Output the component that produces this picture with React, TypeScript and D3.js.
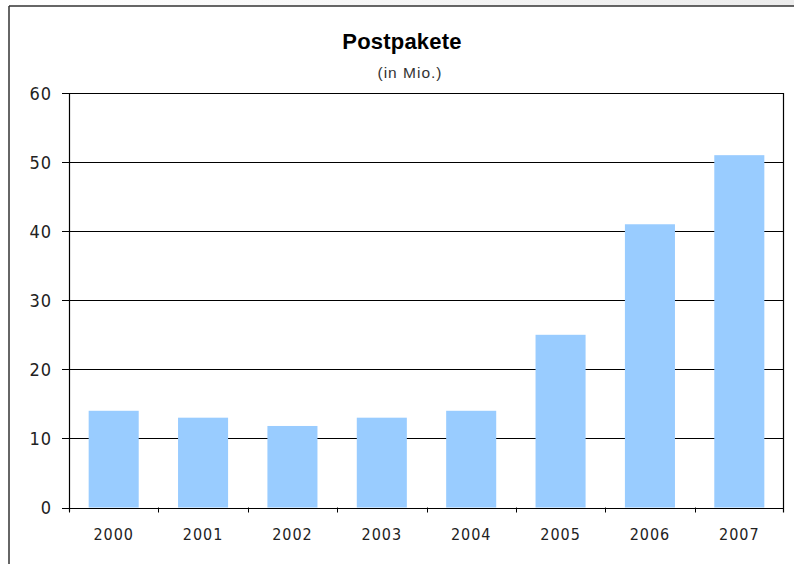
import React from "react";
import * as d3 from "d3";

const years = ["2000", "2001", "2002", "2003", "2004", "2005", "2006", "2007"];
const values = [14, 13, 11.8, 13, 14, 25, 41, 51];
const yTicks = [0, 10, 20, 30, 40, 50, 60];
const title = "Postpakete";
const subtitle = "(in Mio.)";

export default function App() {
  const W = 794, H = 564;
  const left = 69, right = 784, top = 93, bottom = 507.5;
  const x = d3.scaleBand<string>().domain(years).range([left, right]).paddingInner(0.44).paddingOuter(0.22);
  const xb = d3.scaleBand<string>().domain(years).range([left, right]);
  const y = d3.scaleLinear().domain([0, 60]).range([bottom, top]);
  const font = "'Liberation Sans', Arial, sans-serif";
  const cfont = "'DejaVu Sans Condensed', 'DejaVu Sans', sans-serif";
  return (
    <svg width={W} height={H} style={{ position: "absolute", left: 0, top: 0, display: "block", background: "#fff" }}>
      <defs>
        <linearGradient id="topg" x1="0" x2="1" y1="0" y2="0">
          <stop offset="0" stopColor="#ffffff" />
          <stop offset="1" stopColor="#ececec" />
        </linearGradient>
      </defs>
      <rect x={9} y={0} width={W - 9} height={6} fill="url(#topg)" />
      <line x1={9} x2={W} y1={6} y2={6} stroke="#333" strokeWidth={1.5} />
      <line x1={9} x2={9} y1={6} y2={H} stroke="#333" strokeWidth={1.5} />
      {yTicks.map((t) => (
        <g key={t}>
          <line x1={62} x2={right} y1={Math.round(y(t)) + 0.5} y2={Math.round(y(t)) + 0.5} stroke="#000" strokeWidth={1} />
          <text x={52} y={y(t) + 6.5} textAnchor="end" fontFamily={cfont} fontStretch="condensed" fontSize={18} letterSpacing={1} fill="#222">{t}</text>
        </g>
      ))}
      {years.map((yr, i) => (
        <rect key={yr} x={x(yr)} y={y(values[i])} width={x.bandwidth()} height={y(0) - y(values[i])} fill="#99ccff" />
      ))}
      <line x1={left + 0.5} x2={left + 0.5} y1={top} y2={bottom + 4} stroke="#000" strokeWidth={1.2} />
      <line x1={right - 0.5} x2={right - 0.5} y1={top} y2={bottom + 5} stroke="#000" strokeWidth={1.2} />
      <line x1={62} x2={right} y1={Math.round(y(0)) + 0.5} y2={Math.round(y(0)) + 0.5} stroke="#000" strokeWidth={1.2} />
      {years.map((yr) => (
        <line key={"t" + yr} x1={Math.round(xb(yr)!) + 0.5} x2={Math.round(xb(yr)!) + 0.5} y1={bottom} y2={bottom + 5} stroke="#000" strokeWidth={1} />
      ))}
      {years.map((yr) => (
        <text key={"l" + yr} x={xb(yr)! + xb.bandwidth() / 2} y={540} textAnchor="middle" fontFamily={cfont} fontStretch="condensed" fontSize={16} letterSpacing={1} fill="#222">{yr}</text>
      ))}
      <text x={402} y={49} textAnchor="middle" fontFamily={font} fontSize={22} fontWeight="bold" letterSpacing={0.2} fill="#000">{title}</text>
      <text x={410} y={78} textAnchor="middle" fontFamily={font} fontSize={15.5} letterSpacing={1} fill="#333">{subtitle}</text>
    </svg>
  );
}
